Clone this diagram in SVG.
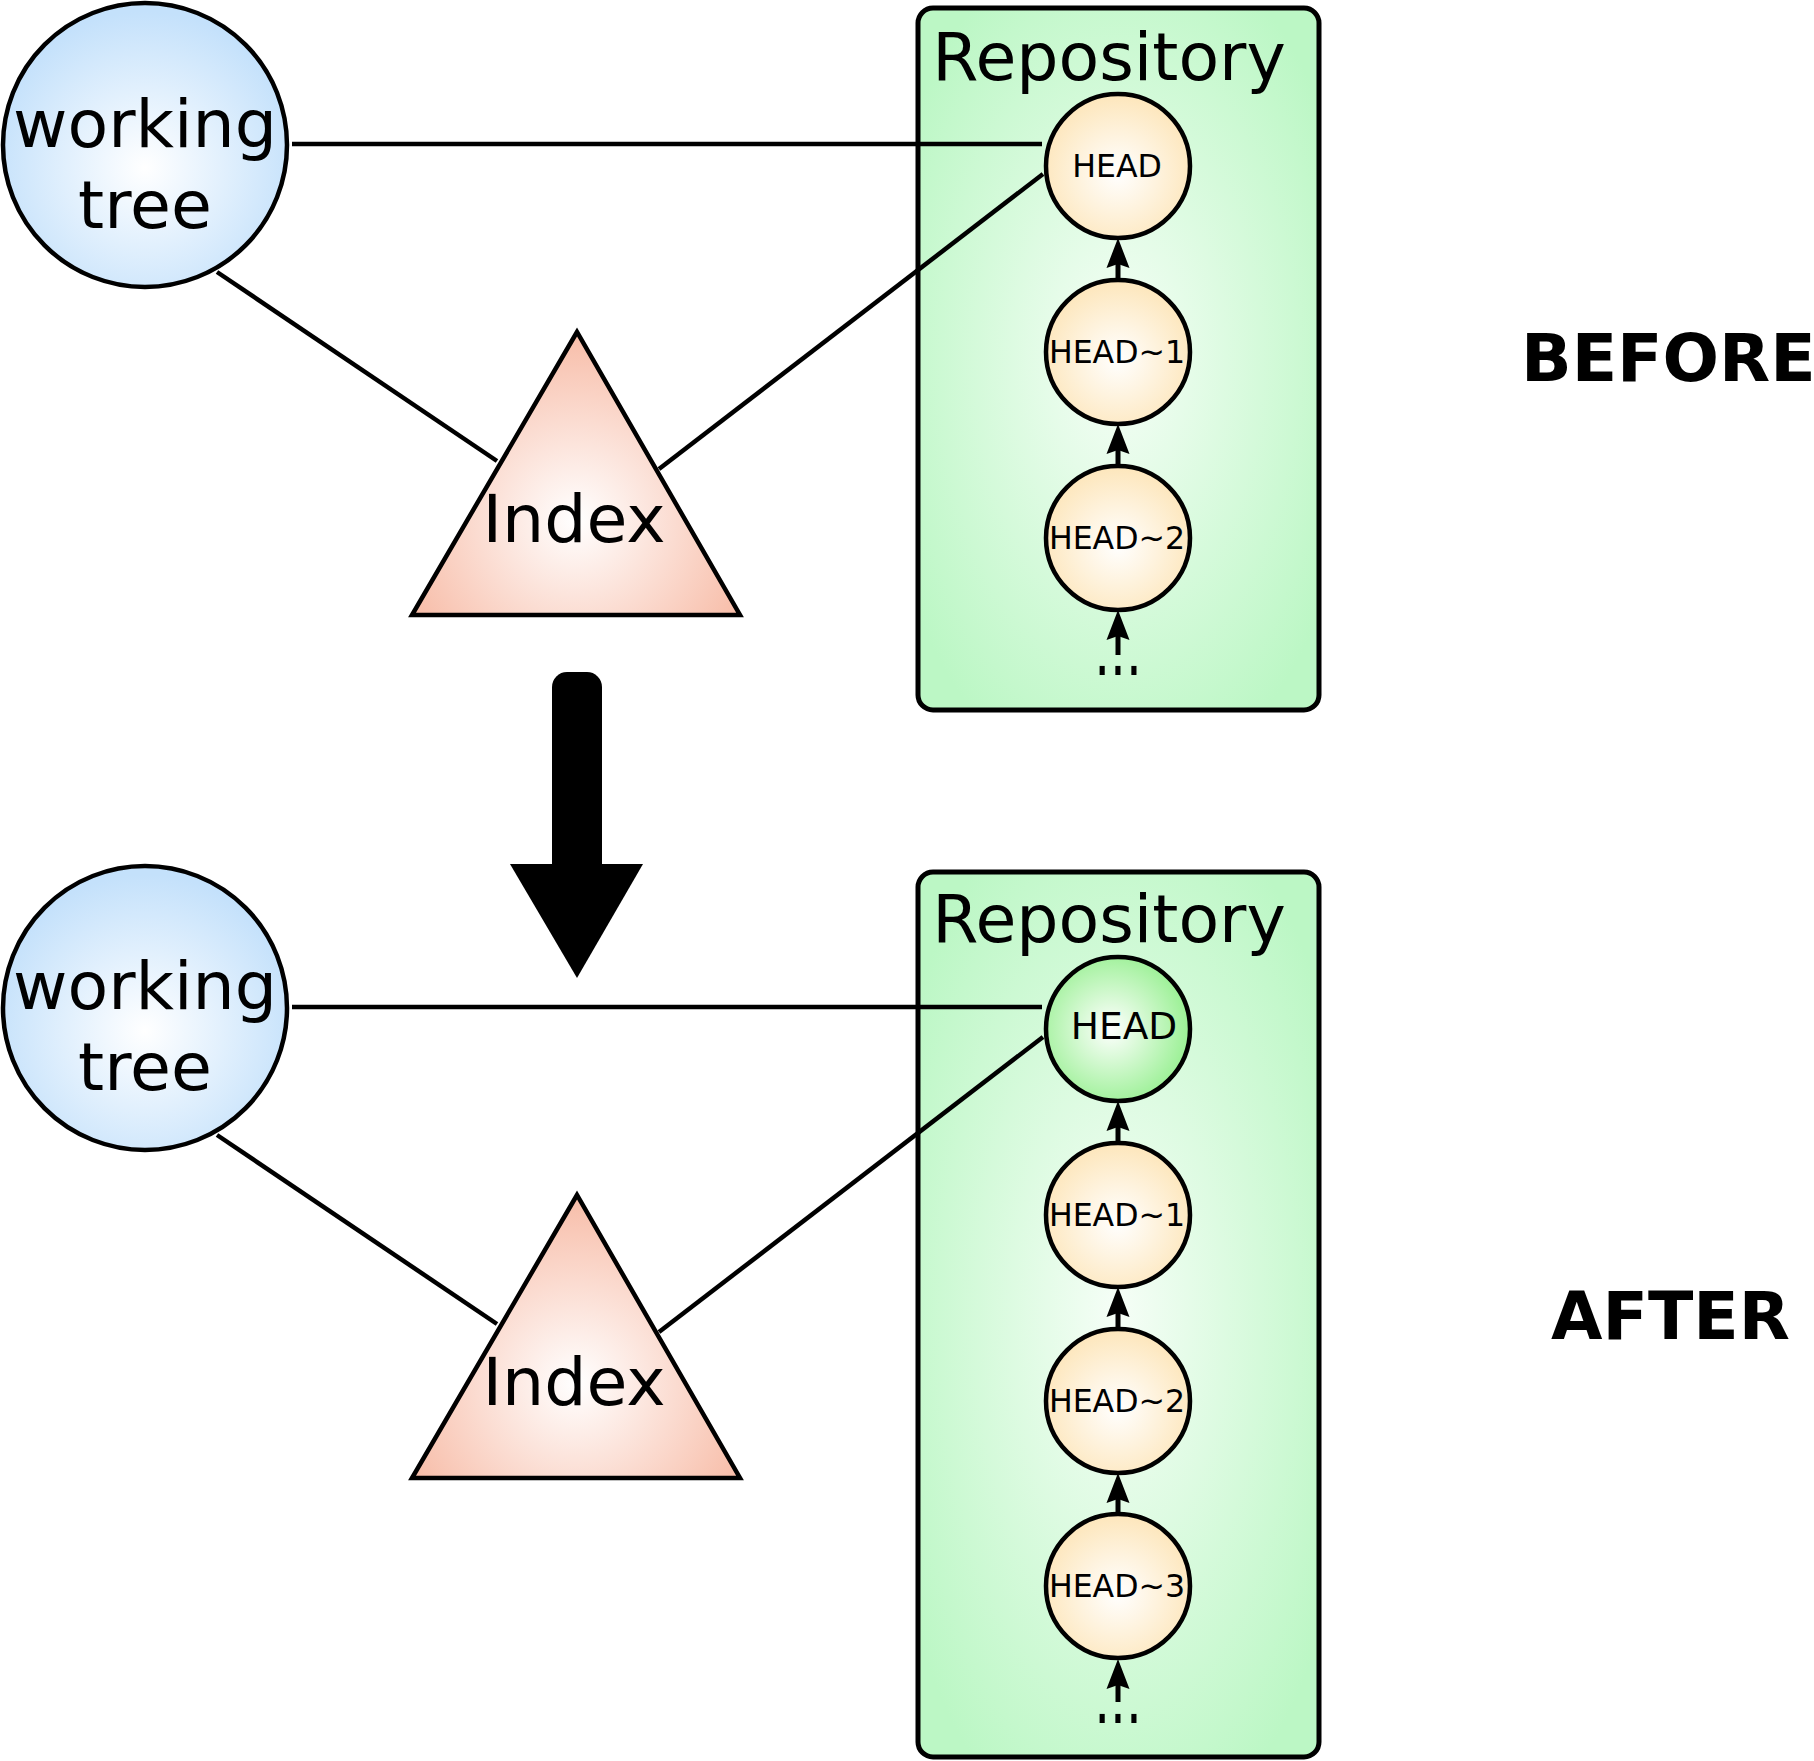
<svg xmlns="http://www.w3.org/2000/svg" width="1814" height="1761" viewBox="0 0 1814 1761">
<defs>
  <radialGradient id="gWT" cx="50%" cy="58%" r="55%">
    <stop offset="0" stop-color="#ffffff"/>
    <stop offset="1" stop-color="#c4e1fb"/>
  </radialGradient>
  <radialGradient id="gIdx" gradientUnits="userSpaceOnUse" cx="576" cy="520" r="200">
    <stop offset="0" stop-color="#ffffff"/>
    <stop offset="1" stop-color="#f7b8a2"/>
  </radialGradient>
  <radialGradient id="gIdx2" gradientUnits="userSpaceOnUse" cx="576" cy="1383" r="200">
    <stop offset="0" stop-color="#ffffff"/>
    <stop offset="1" stop-color="#f7b8a2"/>
  </radialGradient>
  <radialGradient id="gCommit" cx="50%" cy="55%" r="55%">
    <stop offset="0" stop-color="#ffffff"/>
    <stop offset="1" stop-color="#fde6bb"/>
  </radialGradient>
  <radialGradient id="gHeadNew" cx="45%" cy="50%" r="55%">
    <stop offset="0" stop-color="#ffffff"/>
    <stop offset="1" stop-color="#9af094"/>
  </radialGradient>
  <radialGradient id="gRepo" cx="50%" cy="50%" r="62%">
    <stop offset="0" stop-color="#f6fef7"/>
    <stop offset="1" stop-color="#bcf7c5"/>
  </radialGradient>
  <marker id="ah" viewBox="0 0 30 24" markerUnits="userSpaceOnUse" markerWidth="30" markerHeight="24" refX="16" refY="12" orient="auto">
    <path d="M0,0.5 L30,12 L0,23.5 L4,12 z" fill="#000"/>
  </marker>
</defs>
<style>
  .outline { stroke: #000; stroke-width: 4.5; }
  .conn { stroke: #000; stroke-width: 4.5; fill: none; }
  .chain { stroke: #000; stroke-width: 5; fill: none; marker-end: url(#ah); }
  .big { font-family: "DejaVu Sans", "Liberation Sans", sans-serif; font-size: 66.5px; fill: #000; }
  .small { font-family: "DejaVu Sans", "Liberation Sans", sans-serif; font-size: 31.6px; fill: #000; text-anchor: middle; }
  .newhead { font-size: 37.5px; }
  .dots { font-size: 50px; }
  .label { font-family: "DejaVu Sans", "Liberation Sans", sans-serif; font-size: 66.5px; font-weight: bold; fill: #000; }
  .mid { text-anchor: middle; }
</style>
<rect x="0" y="0" width="1814" height="1761" fill="#ffffff"/>

<!-- BEFORE -->
<g id="repo-before">
  <rect x="918" y="8" width="401" height="702" rx="15" ry="15" fill="url(#gRepo)" stroke="#000" stroke-width="5"/>
  <text class="big mid" x="1109" y="80">Repository</text>
</g>
<g id="wt-before">
  <circle cx="145" cy="145" r="142" fill="url(#gWT)" class="outline" stroke-width="3.5"/>
  <text class="big mid" x="145" y="147">working</text>
  <text class="big mid" x="145" y="228">tree</text>
</g>
<g id="index-before">
  <polygon points="577,332 412,615 740,615" fill="url(#gIdx)" class="outline" stroke-linejoin="miter"/>
  <text class="big mid" x="574" y="542">Index</text>
</g>
<g id="head-before">
  <circle cx="1118" cy="166" r="72" fill="url(#gCommit)" class="outline"/>
  <text class="small" x="1117" y="177">HEAD</text>
</g>
<g id="head1-before">
  <circle cx="1118" cy="352" r="72" fill="url(#gCommit)" class="outline"/>
  <text class="small" x="1117" y="363">HEAD~1</text>
</g>
<g id="head2-before">
  <circle cx="1118" cy="538" r="72" fill="url(#gCommit)" class="outline"/>
  <text class="small" x="1117" y="549">HEAD~2</text>
</g>
<g id="dots-before">
  <text class="small dots" x="1118" y="0" transform="translate(0,675) scale(1,1.45)">...</text>
</g>
<g id="label-before">
  <text class="label" x="1521" y="381">BEFORE</text>
</g>

<!-- AFTER -->
<g id="repo-after">
  <rect x="918" y="872" width="401" height="885" rx="15" ry="15" fill="url(#gRepo)" stroke="#000" stroke-width="5"/>
  <text class="big mid" x="1109" y="942">Repository</text>
</g>
<g id="wt-after">
  <circle cx="145" cy="1008" r="142" fill="url(#gWT)" class="outline" stroke-width="3.5"/>
  <text class="big mid" x="145" y="1009">working</text>
  <text class="big mid" x="145" y="1090">tree</text>
</g>
<g id="index-after">
  <polygon points="577,1195 412,1478 740,1478" fill="url(#gIdx2)" class="outline" stroke-linejoin="miter"/>
  <text class="big mid" x="574" y="1405">Index</text>
</g>
<g id="head-after">
  <circle cx="1118" cy="1029" r="72" fill="url(#gHeadNew)" class="outline"/>
  <text class="small newhead" x="1124" y="1039">HEAD</text>
</g>
<g id="head1-after">
  <circle cx="1118" cy="1215" r="72" fill="url(#gCommit)" class="outline"/>
  <text class="small" x="1117" y="1226">HEAD~1</text>
</g>
<g id="head2-after">
  <circle cx="1118" cy="1401" r="72" fill="url(#gCommit)" class="outline"/>
  <text class="small" x="1117" y="1412">HEAD~2</text>
</g>
<g id="head3-after">
  <circle cx="1118" cy="1586" r="72" fill="url(#gCommit)" class="outline"/>
  <text class="small" x="1117" y="1597">HEAD~3</text>
</g>
<g id="dots-after">
  <text class="small dots" x="1118" y="0" transform="translate(0,1723) scale(1,1.45)">...</text>
</g>
<g id="label-after">
  <text class="label" x="1551" y="1339">AFTER</text>
</g>

<!-- transition arrow -->
<g id="transition-arrow">
  <polygon points="510,864 643,864 577,978" fill="#000"/>
  <rect x="552" y="672" width="50" height="226" rx="15" ry="15" fill="#000"/>
</g>

<g id="connectors">
  <line class="conn" x1="292" y1="144" x2="1042" y2="144"/>
  <line class="conn" x1="1043" y1="174" x2="659" y2="469"/>
  <line class="conn" x1="217" y1="272" x2="497" y2="461"/>
  <line class="chain" x1="1118" y1="280" x2="1118" y2="252"/>
  <line class="chain" x1="1118" y1="466" x2="1118" y2="438"/>
  <line class="chain" x1="1118" y1="655" x2="1118" y2="624"/>

  <line class="conn" x1="292" y1="1007" x2="1042" y2="1007"/>
  <line class="conn" x1="1043" y1="1037" x2="659" y2="1332"/>
  <line class="conn" x1="217" y1="1135" x2="497" y2="1324"/>
  <line class="chain" x1="1118" y1="1143" x2="1118" y2="1115"/>
  <line class="chain" x1="1118" y1="1329" x2="1118" y2="1301"/>
  <line class="chain" x1="1118" y1="1515" x2="1118" y2="1487"/>
  <line class="chain" x1="1118" y1="1702" x2="1118" y2="1673"/>
</g>
</svg>
